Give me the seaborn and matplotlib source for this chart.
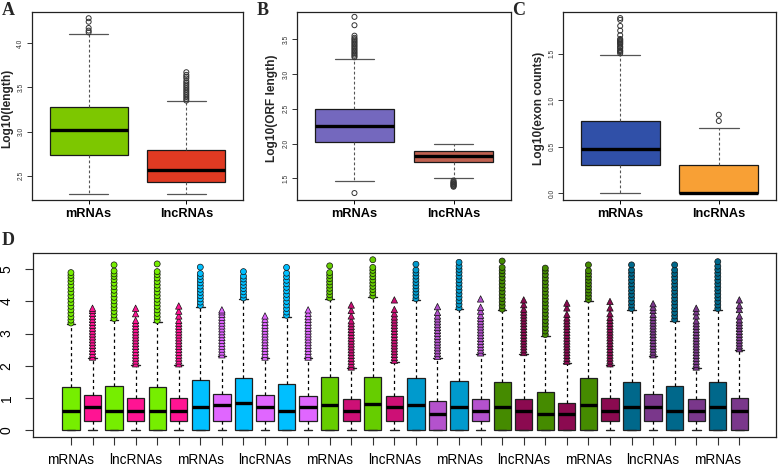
import numpy as np
import pandas as pd
import matplotlib
matplotlib.use("Agg")
import matplotlib.pyplot as plt
import seaborn as sns

sns.set_theme(style="ticks")
plt.rcParams['font.family'] = ['Liberation Sans', 'DejaVu Sans']

groups = ["mRNAs", "lncRNAs"]

# ---------------- Panel A: Log10(length) ----------------
# five-number summaries: [low whisker, Q1, median, Q3, high whisker]
a_mrna = [2.30, 2.74, 3.02, 3.28, 4.10]
a_lnc = [2.30, 2.43, 2.57, 2.79, 3.34]
a_mrna_out = [4.12, 4.14, 4.17, 4.24, 4.28]
a_lnc_out = [3.35, 3.37, 3.39, 3.41, 3.43, 3.45, 3.47, 3.49, 3.51, 3.53,
             3.55, 3.57, 3.60, 3.62, 3.64, 3.67]
a_colors = ["#7DC700", "#E03A22"]

# ---------------- Panel B: Log10(ORF length) ----------------
b_mrna = [1.47, 2.02, 2.25, 2.50, 3.22]
b_lnc = [1.50, 1.74, 1.82, 1.89, 2.00]
b_mrna_out = [1.29, 3.24, 3.26, 3.28, 3.30, 3.32, 3.34, 3.36, 3.38, 3.40,
              3.42, 3.44, 3.46, 3.48, 3.50, 3.52, 3.55, 3.70, 3.82]
b_lnc_out = [1.38, 1.39, 1.40, 1.41, 1.42, 1.43, 1.44, 1.45, 1.47]
b_colors = ["#7468BE", "#C0604F"]

# ---------------- Panel C: Log10(exon counts) ----------------
c_mrna = [0.00, 0.30, 0.477, 0.775, 1.49]
c_lnc = [0.00, 0.00, 0.00, 0.30, 0.70]
c_mrna_out = [1.505, 1.52, 1.53, 1.54, 1.56, 1.57, 1.58, 1.60, 1.61, 1.62,
              1.63, 1.64, 1.65, 1.66, 1.70, 1.75, 1.80, 1.866, 1.885]
c_lnc_out = [0.778, 0.845]
c_colors = ["#3050A8", "#F8A035"]

# ---------------- Panel D: 32 boxes ----------------
d_low = [0.0] * 32
d_q1 = [0, 0.29, 0, 0.29, 0, 0.29, 0, 0.29, 0, 0.29, 0, 0.29, 0, 0.29, 0, 0.29,
        0, 0, 0, 0.29, 0, 0, 0, 0, 0, 0.29, 0, 0.29, 0, 0.29, 0, 0]
d_med = [0.60, 0.71, 0.60, 0.60, 0.60, 0.60, 0.72, 0.79, 0.85, 0.71, 0.60, 0.71,
         0.79, 0.60, 0.80, 0.71, 0.79, 0.49, 0.71, 0.60, 0.71, 0.60, 0.49, 0.49,
         0.79, 0.60, 0.71, 0.71, 0.60, 0.60, 0.71, 0.60]
d_q3 = [1.33, 1.08, 1.37, 0.99, 1.35, 0.99, 1.54, 1.12, 1.63, 1.08, 1.42, 1.06,
        1.65, 0.96, 1.66, 1.06, 1.63, 0.90, 1.53, 0.96, 1.50, 0.96, 1.17, 0.83,
        1.61, 0.99, 1.50, 1.11, 1.37, 0.96, 1.50, 0.99]
d_high = [3.29, 2.23, 3.43, 2.02, 3.37, 2.02, 3.84, 2.30, 4.07, 2.23, 3.53, 2.23,
          4.07, 1.92, 4.13, 2.13, 4.05, 2.25, 3.76, 2.36, 3.72, 2.37, 2.93, 2.10,
          4.02, 2.02, 3.74, 2.30, 3.40, 1.92, 3.74, 2.49]
d_outliers = [
    [3.33, 3.42, 3.52, 3.63, 3.74, 3.85, 3.96, 4.07, 4.18, 4.29, 4.40, 4.51, 4.62, 4.72, 4.81, 4.90],
    [2.27, 2.36, 2.45, 2.54, 2.63, 2.72, 2.81, 2.90, 2.99, 3.08, 3.17, 3.26, 3.35, 3.44, 3.53, 3.63, 3.72, 3.79],
    [3.47, 3.58, 3.69, 3.80, 3.91, 4.02, 4.13, 4.24, 4.35, 4.46, 4.57, 4.68, 4.78, 4.86, 4.95, 5.14],
    [2.06, 2.15, 2.24, 2.33, 2.42, 2.51, 2.60, 2.69, 2.78, 2.87, 2.96, 3.05, 3.14, 3.23, 3.32, 3.41, 3.62, 3.79],
    [3.41, 3.52, 3.63, 3.74, 3.85, 3.96, 4.07, 4.18, 4.29, 4.40, 4.51, 4.62, 4.73, 4.84, 4.93, 5.17],
    [2.06, 2.15, 2.24, 2.33, 2.42, 2.51, 2.60, 2.69, 2.78, 2.87, 2.96, 3.05, 3.14, 3.23, 3.32, 3.41, 3.55, 3.70, 3.86],
    [3.88, 3.98, 4.08, 4.18, 4.28, 4.38, 4.48, 4.58, 4.68, 4.78, 4.87, 5.07],
    [2.34, 2.43, 2.52, 2.61, 2.70, 2.79, 2.88, 2.97, 3.06, 3.15, 3.24, 3.33, 3.42, 3.51, 3.60, 3.68, 3.74],
    [4.11, 4.20, 4.30, 4.40, 4.50, 4.60, 4.70, 4.79, 4.93],
    [2.27, 2.36, 2.45, 2.54, 2.63, 2.72, 2.81, 2.90, 2.99, 3.08, 3.17, 3.26, 3.35, 3.45, 3.55],
    [3.57, 3.67, 3.78, 3.89, 4.00, 4.11, 4.22, 4.33, 4.44, 4.55, 4.66, 4.77, 4.88, 5.06],
    [2.27, 2.36, 2.45, 2.54, 2.63, 2.72, 2.81, 2.90, 2.99, 3.08, 3.17, 3.26, 3.35, 3.44, 3.53, 3.63, 3.74],
    [4.11, 4.21, 4.31, 4.41, 4.51, 4.61, 4.71, 4.81, 4.90, 5.11],
    [1.96, 2.05, 2.14, 2.23, 2.32, 2.41, 2.50, 2.59, 2.68, 2.77, 2.86, 2.95, 3.04, 3.13, 3.22, 3.31, 3.40, 3.55, 3.72, 3.89],
    [4.17, 4.27, 4.37, 4.47, 4.57, 4.67, 4.77, 4.87, 4.97, 5.06, 5.30],
    [2.17, 2.26, 2.35, 2.44, 2.53, 2.62, 2.71, 2.80, 2.89, 2.98, 3.07, 3.16, 3.25, 3.34, 3.43, 3.52, 3.62, 3.75, 4.05],
    [4.09, 4.19, 4.29, 4.39, 4.49, 4.59, 4.69, 4.79, 4.89, 4.98, 5.16],
    [2.29, 2.38, 2.47, 2.56, 2.65, 2.74, 2.83, 2.92, 3.01, 3.10, 3.19, 3.28, 3.37, 3.46, 3.55, 3.66, 3.84],
    [3.80, 3.91, 4.02, 4.13, 4.24, 4.35, 4.46, 4.57, 4.68, 4.79, 4.90, 5.00, 5.10, 5.22],
    [2.40, 2.49, 2.58, 2.67, 2.76, 2.85, 2.94, 3.03, 3.12, 3.21, 3.30, 3.39, 3.48, 3.57, 3.70, 3.82, 4.08],
    [3.76, 3.87, 3.98, 4.09, 4.20, 4.31, 4.42, 4.53, 4.64, 4.75, 4.86, 4.96, 5.06, 5.26],
    [2.41, 2.50, 2.59, 2.68, 2.77, 2.86, 2.95, 3.04, 3.13, 3.22, 3.31, 3.40, 3.49, 3.58, 3.67, 3.76, 3.90, 4.05],
    [2.97, 3.08, 3.19, 3.30, 3.41, 3.52, 3.63, 3.74, 3.85, 3.96, 4.07, 4.18, 4.29, 4.40, 4.51, 4.62, 4.73, 4.84, 4.95, 5.04],
    [2.14, 2.23, 2.32, 2.41, 2.50, 2.59, 2.68, 2.77, 2.86, 2.95, 3.04, 3.13, 3.22, 3.31, 3.40, 3.49, 3.60, 3.80, 3.95],
    [4.06, 4.16, 4.26, 4.36, 4.46, 4.56, 4.66, 4.76, 4.86, 4.96, 5.14],
    [2.06, 2.15, 2.24, 2.33, 2.42, 2.51, 2.60, 2.69, 2.78, 2.87, 2.96, 3.05, 3.14, 3.23, 3.32, 3.41, 3.50, 3.62, 3.80, 4.00],
    [3.78, 3.89, 4.00, 4.11, 4.22, 4.33, 4.44, 4.55, 4.66, 4.77, 4.88, 4.98, 5.14],
    [2.34, 2.43, 2.52, 2.61, 2.70, 2.79, 2.88, 2.97, 3.06, 3.15, 3.24, 3.33, 3.42, 3.51, 3.60, 3.72, 3.82, 3.93],
    [3.44, 3.55, 3.66, 3.77, 3.88, 3.99, 4.10, 4.21, 4.32, 4.43, 4.54, 4.65, 4.76, 4.87, 4.98, 5.14],
    [1.96, 2.05, 2.14, 2.23, 2.32, 2.41, 2.50, 2.59, 2.68, 2.77, 2.86, 2.95, 3.04, 3.13, 3.22, 3.31, 3.40, 3.55, 3.68, 3.79],
    [3.78, 3.89, 4.00, 4.11, 4.22, 4.33, 4.44, 4.55, 4.66, 4.77, 4.88, 4.99, 5.10, 5.24],
    [2.53, 2.62, 2.71, 2.80, 2.89, 2.98, 3.07, 3.16, 3.25, 3.34, 3.43, 3.55, 3.75, 3.87, 4.05],
]
G1, P1, B1, V1 = "#76EE00", "#FF1493", "#00BFFF", "#E066FF"
G2, P2, B2, V2 = "#66CD00", "#CD1076", "#009ACD", "#B452CD"
G3, P3, B3, V3 = "#458B00", "#8B0A50", "#00688B", "#7A378B"
d_colors = ([G1, P1] * 3 + [B1, V1] * 3 + [G2, P2] * 2 + [B2, V2] * 2
            + [G3, P3] * 3 + [B3, V3] * 3)
d_ticklabels = ["mRNAs", "lncRNAs"]

# ---------------- figure ----------------
W, H = 778, 468
fig = plt.figure(figsize=(W / 100, H / 100), dpi=100)


def px_axes(x0, y0, x1, y1):
    return fig.add_axes([x0 / W, 1 - y1 / H, (x1 - x0) / W, (y1 - y0) / H])


def style_box_axes(ax):
    for s in ax.spines.values():
        s.set_visible(True)
        s.set_color("#222222")
        s.set_linewidth(0.9)


def two_box(ax, stats, outs, colors, ylim, yticks, ylabel, labx):
    df = pd.DataFrame({"g": [g for g, s in zip(groups, stats) for _ in s],
                       "v": [v for s in stats for v in s]})
    sns.boxplot(data=df, x="g", y="v", hue="g", order=groups, hue_order=groups,
                palette=dict(zip(groups, colors)), legend=False, whis=(0, 100),
                width=0.8, saturation=1, showfliers=False, linecolor="#1a1a1a",
                linewidth=0.9,
                medianprops=dict(color="black", linewidth=2.4),
                whiskerprops=dict(color="#555555", linestyle=(0, (2.5, 2)), linewidth=0.8),
                capprops=dict(color="#555555", linewidth=0.9),
                ax=ax)
    odf = pd.DataFrame({"g": [g for g, o in zip(groups, outs) for _ in o],
                        "v": [v for o in outs for v in o]})
    sns.stripplot(data=odf, x="g", y="v", order=groups, jitter=False,
                  color="#333333", facecolor="none", edgecolor="#333333",
                  linewidth=0.7, size=3.6, ax=ax)
    ax.set_xlim(-0.58, 1.58)
    ax.set_ylim(*ylim)
    ax.set_yticks(yticks)
    ax.set_yticklabels([f"{t:.1f}" for t in yticks], fontsize=4.8, rotation=90,
                       va="center")
    ax.set_xticks([0, 1])
    ax.set_xticklabels(groups, fontsize=9.2, fontweight="bold")
    ax.tick_params(axis="y", direction="out", length=3.5, width=0.7, pad=2,
                   colors="#333333", left=True)
    ax.tick_params(axis="x", direction="out", length=3, width=0.7, pad=2.5,
                   colors="black", bottom=True)
    ax.set_xlabel("")
    ax.set_ylabel(ylabel, fontsize=8.6, fontweight="bold")
    ax.yaxis.set_label_coords(labx, 0.49)
    style_box_axes(ax)


axA = px_axes(32, 12, 243, 200)
two_box(axA, [a_mrna, a_lnc], [a_mrna_out, a_lnc_out], a_colors,
        (2.227, 4.35), [2.5, 3.0, 3.5, 4.0], "Log10(length)", -0.088)

axB = px_axes(297, 12, 511, 200)
two_box(axB, [b_mrna, b_lnc], [b_mrna_out, b_lnc_out], b_colors,
        (1.19, 3.89), [1.5, 2.0, 2.5, 3.0, 3.5], "Log10(ORF length)", -0.087)

axC = px_axes(563, 12, 776, 200)
two_box(axC, [c_mrna, c_lnc], [c_mrna_out, c_lnc_out], c_colors,
        (-0.072, 1.95), [0.0, 0.5, 1.0, 1.5], "Log10(exon counts)", -0.083)

# Panel D
cats = [f"b{i:02d}" for i in range(32)]
dpal = dict(zip(cats, d_colors))
ddf = pd.DataFrame({
    "box": [c for c in cats for _ in range(5)],
    "v": [v for i in range(32) for v in (d_low[i], d_q1[i], d_med[i], d_q3[i], d_high[i])],
})
axD = px_axes(33, 253, 776, 437)
sns.boxplot(data=ddf, x="box", y="v", hue="box", order=cats, hue_order=cats,
            palette=dpal, legend=False, whis=(0, 100), width=0.8, saturation=1,
            showfliers=False, linecolor="#202020", linewidth=0.9,
            medianprops=dict(color="black", linewidth=2.4),
            whiskerprops=dict(color="black", linestyle=(0, (2.5, 2.5)), linewidth=0.9),
            capprops=dict(color="#222222", linewidth=1.0),
            ax=axD)
odf_m = pd.DataFrame({"box": [cats[i] for i in range(0, 32, 2) for _ in d_outliers[i]],
                      "v": [v for i in range(0, 32, 2) for v in d_outliers[i]]})
odf_l = pd.DataFrame({"box": [cats[i] for i in range(1, 32, 2) for _ in d_outliers[i]],
                      "v": [v for i in range(1, 32, 2) for v in d_outliers[i]]})
sns.stripplot(data=odf_m, x="box", y="v", hue="box", order=cats, hue_order=cats,
              palette=dpal, legend=False, jitter=False, marker="o", size=4.3,
              edgecolor="#111111", linewidth=0.5, ax=axD)
sns.stripplot(data=odf_l, x="box", y="v", hue="box", order=cats, hue_order=cats,
              palette=dpal, legend=False, jitter=False, marker="^", size=4.6,
              edgecolor="#111111", linewidth=0.5, ax=axD)
axD.set_xlim(-1.76, 32.7)
axD.set_ylim(-0.22, 5.51)
axD.set_yticks([0, 1, 2, 3, 4, 5])
axD.set_yticklabels(["0", "1", "2", "3", "4", "5"], fontsize=10, rotation=90,
                    va="center")
axD.set_xticks(range(32))
axD.set_xticklabels([d_ticklabels[i % 2] if i % 3 == 0 else "" for i in range(32)],
                    fontsize=9.8)
axD.tick_params(axis="y", direction="out", length=6, width=0.8, pad=8,
                colors="#333333", left=True)
axD.tick_params(axis="x", direction="out", length=5.5, width=0.8, pad=6,
                colors="#333333", bottom=True)
for lab in axD.get_xticklabels() + axD.get_yticklabels():
    lab.set_color("black")
axD.set_xlabel("")
axD.set_ylabel("")
style_box_axes(axD)

# panel letters
for letter, x, y in [("A", 2, 2), ("B", 257, 2), ("C", 512, 2), ("D", 2, 232)]:
    fig.text(x / W, 1 - y / H, letter, fontsize=13, fontweight="bold",
             family=["Liberation Serif", "DejaVu Serif"], ha="left", va="top")

fig.savefig("out.png", dpi=100)
